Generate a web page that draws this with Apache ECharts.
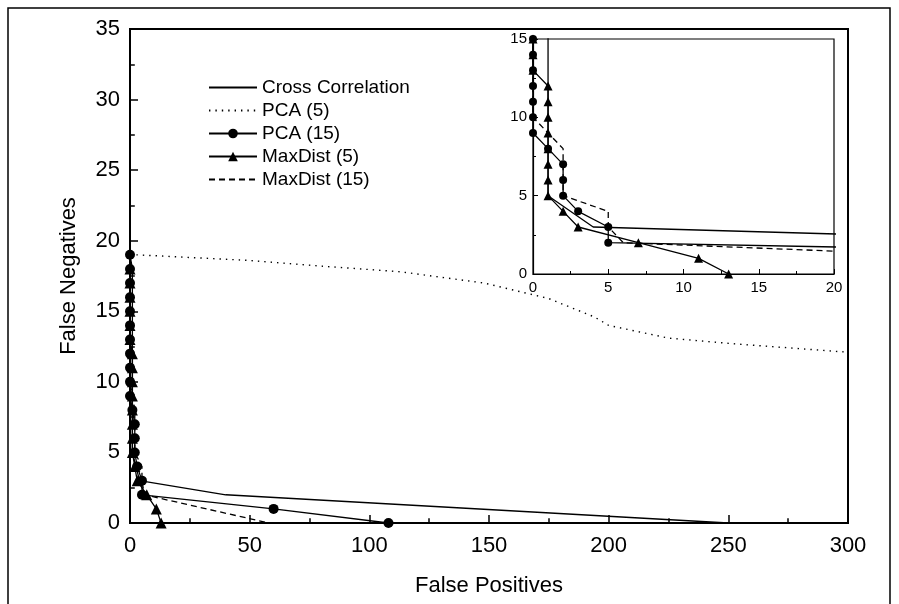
<!DOCTYPE html>
<html>
<head>
<meta charset="utf-8">
<script src="https://cdn.jsdelivr.net/npm/echarts@6/dist/echarts.min.js"></script>
<style>html,body{margin:0;padding:0;background:#fff}#c{width:899px;height:604px}</style>
</head>
<body>
<div id="c"></div>
<script>
// ---- data (False Positives, False Negatives) ----
const seriesNames = ['Cross Correlation', 'PCA (5)', 'PCA (15)', 'MaxDist (5)', 'MaxDist (15)'];
const crossCorr = [[0,19],[1,18],[1,5],[4,3],[40,2],[250,0]];
const pca5 = [[0,19],[3,19],[50,18.6],[80,18.2],[113,17.8],[148,17],[175,15.9],[194,14.6],[200,14],[225,13.1],[252,12.7],[300,12.1]];
const pca15 = [[0,19],[0,18],[0,17],[0,16],[0,15],[0,14],[0,13],[0,12],[0,11],[0,10],[0,9],[1,8],[2,7],[2,6],[2,5],[3,4],[5,3],[5,2],[60,1],[108,0]];
const maxDist5 = [[0,18],[0,17],[0,16],[0,15],[0,14],[0,13],[1,12],[1,11],[1,10],[1,9],[1,8],[1,7],[1,6],[1,5],[2,4],[3,3],[7,2],[11,1],[13,0]];
const maxDist15 = [[0,19],[0,10],[2,8],[2,5],[5,4],[5,3],[6,2],[58,0]];
const mainXTicks = [0, 300, 50];   // min, max, interval
const mainYTicks = [0, 35, 5];
const insetXTicks = [0, 20, 5];
const insetYTicks = [0, 15, 5];
const markerless = ['Cross Correlation', 'PCA (5)', 'MaxDist (15)'];

const FONT = 'Liberation Sans, Arial, sans-serif';
const chart = echarts.init(document.getElementById('c'), null, {renderer: 'canvas'});

function axis(gridIndex, t, fs, tickLen, margin, name, nameGap) {
  const main = gridIndex === 0;
  return {
    type: 'value', gridIndex: gridIndex, min: t[0], max: t[1], interval: t[2],
    name: name, nameLocation: 'middle', nameGap: nameGap,
    nameTextStyle: {fontFamily: FONT, fontSize: 22, color: '#000'},
    axisLine: {show: true, onZero: false, lineStyle: {color: '#000', width: main ? 2 : 1.2}},
    axisTick: {show: true, inside: true, length: tickLen, lineStyle: {color: '#000', width: main ? 1.5 : 1}},
    minorTick: {show: true, splitNumber: 2, length: tickLen * 0.6, lineStyle: {color: '#000', width: main ? 1.5 : 1}},
    axisLabel: {fontFamily: FONT, fontSize: fs, color: '#000', margin: margin},
    splitLine: {show: false}
  };
}

function mk(name, data, gi, extra) {
  return Object.assign({
    name: name, type: 'line', data: data, xAxisIndex: gi, yAxisIndex: gi,
    showSymbol: false, symbol: 'none', animation: false, clip: true,
    itemStyle: {color: '#000'}, lineStyle: {color: '#000', width: 1.3}
  }, extra);
}
function seriesFor(gi, sz) {
  return [
    mk(seriesNames[0], crossCorr, gi, {}),
    mk(seriesNames[1], pca5, gi, {lineStyle: {color: '#000', width: 1.4, type: [1.4, 5]}}),
    mk(seriesNames[2], pca15, gi, {showSymbol: true, symbol: 'circle', symbolSize: sz}),
    mk(seriesNames[3], maxDist5, gi, {showSymbol: true, symbol: 'triangle', symbolSize: sz + 1}),
    mk(seriesNames[4], maxDist15, gi, {lineStyle: {color: '#000', width: 1.3, type: [6, 4]}})
  ];
}

chart.setOption({
  animation: false,
  backgroundColor: '#fff',
  graphic: [{type: 'rect', shape: {x: 8, y: 8, width: 882, height: 600}, style: {fill: 'none', stroke: '#000', lineWidth: 1.5}, silent: true}],
  grid: [
    {left: 130, top: 29, width: 718, height: 494, show: true, borderColor: '#000', borderWidth: 2, backgroundColor: 'transparent'},
    {left: 533, top: 39, width: 301, height: 235, show: true, borderColor: '#000', borderWidth: 1.2, backgroundColor: '#fff'}
  ],
  legend: {
    data: seriesNames.map(function (n) {
      return markerless.indexOf(n) >= 0 ? {name: n, itemStyle: {opacity: 0}} : {name: n};
    }),
    orient: 'vertical', left: 203, top: 73,
    itemWidth: 48, itemHeight: 12, itemGap: 4,
    textStyle: {fontFamily: FONT, fontSize: 19, color: '#000'},
    selectedMode: false
  },
  xAxis: [
    axis(0, mainXTicks, 22, 8, 12, 'False Positives', 52),
    axis(1, insetXTicks, 15, 5, 6, '', 0)
  ],
  yAxis: [
    axis(0, mainYTicks, 22, 8, 10, 'False Negatives', 50),
    axis(1, insetYTicks, 15, 5, 6, '', 0)
  ],
  series: seriesFor(0, 10).concat(seriesFor(1, 8))
});
</script>
</body>
</html>
